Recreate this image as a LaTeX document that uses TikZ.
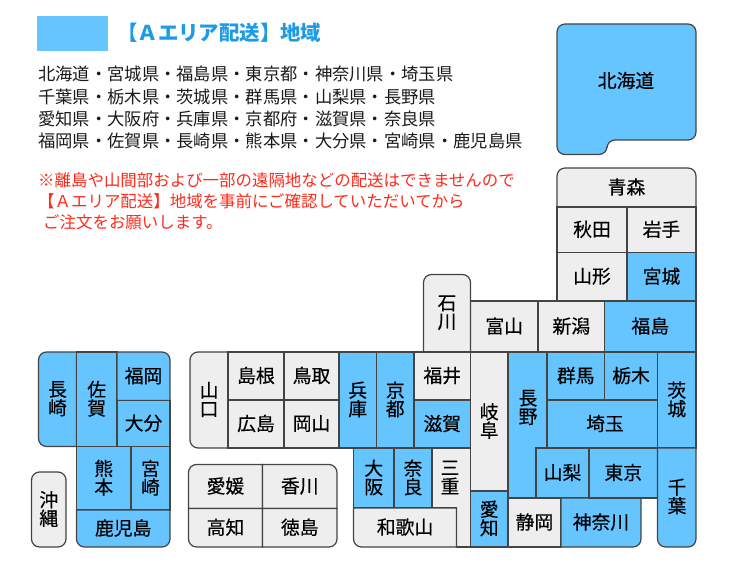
\documentclass[tikz,border=0pt]{standalone}
\usepackage{fontspec}
\setmainfont{Noto Sans CJK JP}
\newfontfamily\labfont[FakeBold=0.4]{Noto Sans CJK JP}
\definecolor{areablue}{HTML}{66C5FF}
\definecolor{areagray}{HTML}{EEEEEE}
\definecolor{edgeink}{HTML}{444444}
\definecolor{titleblue}{HTML}{1E9BE6}
\definecolor{noteRed}{HTML}{FF2A1A}
\definecolor{bodyink}{HTML}{1A1A1A}
\lineskiplimit=-20pt
\tikzset{
  blu/.style={fill=areablue},
  gry/.style={fill=areagray},
  prefedge/.style={draw=edgeink,line width=1.2pt},
  lab/.style={inner sep=0pt,align=center,text=black,yshift=0.5pt,font=\labfont\fontsize{18.8}{18.6}\selectfont},
  bodyline/.style={anchor=west,inner sep=0pt,text=bodyink,font=\fontsize{17.3}{18}\selectfont},
  noteline/.style={anchor=west,inner sep=0pt,text=noteRed,font=\fontsize{16.45}{18}\selectfont},
}
\def\parseR#1/#2/#3/#4\relax{\def\rtl{#1}\def\rtr{#2}\def\rbr{#3}\def\rbl{#4}}
\newcommand\prefshape[6][0/0/0/0]{%
  \parseR#1\relax
  \path[prefedge,#6] ({(#2+#4)/2},#3)
    [rounded corners=\rtl] -- (#2,#3)
    [rounded corners=\rbl] -- (#2,#5)
    [rounded corners=\rbr] -- (#4,#5)
    [rounded corners=\rtr] -- (#4,#3)
    [sharp corners] -- cycle;
}
\newcommand\pref[7][0/0/0/0]{%
  \prefshape[#1]{#2}{#3}{#4}{#5}{#6}
  \node[lab] (p#2x#3) at ({(#2+#4)/2},{(#3+#5)/2}) {#7};
}
\begin{document}
\begin{tikzpicture}[x=1pt,y=-1pt]
\useasboundingbox (0,0) rectangle (730,580);
\node[fill=areablue,minimum width=71pt,minimum height=35pt,inner sep=0pt] (legend) at (72.5,33.5) {};
\node[anchor=west,inner sep=0pt,text=titleblue,font=\bfseries\fontsize{20.4}{22}\selectfont] (title) at (117,33) {【Ａエリア配送】地域};
\node[bodyline] (b1) at (38,74) {北海道・宮城県・福島県・東京都・神奈川県・埼玉県};
\node[bodyline] (b2) at (38,96.5) {千葉県・栃木県・茨城県・群馬県・山梨県・長野県};
\node[bodyline] (b3) at (38,119) {愛知県・大阪府・兵庫県・京都府・滋賀県・奈良県};
\node[bodyline] (b4) at (38,141) {福岡県・佐賀県・長崎県・熊本県・大分県・宮崎県・鹿児島県};
\node[noteline] (n1) at (38,180) {※離島や山間部および一部の遠隔地などの配送はできませんので};
\node[noteline] (n2) at (38,201) {【Ａエリア配送】地域を事前にご確認していただいてから};
\node[noteline] (n3) at (43,222) {ご注文をお願いします。};
% Hokkaido
\path[prefedge,blu] (650,24) [rounded corners=8] -- (557,24) -- (557,154.5) -- (607,154.5)
  -- (607,140) -- (696,140) -- (696,24) [sharp corners] -- cycle;
\node[lab] (hokkaido) at (626,81) {北海道};
% Tohoku
\pref[8/8/0/0]{557}{168}{696}{207}{gry}{青森}
\pref{557}{207}{627}{252.5}{gry}{秋田}
\pref{627}{207}{696}{252.5}{gry}{岩手}
\pref{557}{252.5}{627}{301}{gry}{山形}
\pref{627}{252.5}{696}{301}{blu}{宮城}
\pref{604.5}{301}{696}{352}{blu}{福島}
\pref{538}{301}{604.5}{352}{gry}{新潟}
\pref{470.5}{301}{538}{352}{gry}{富山}
\pref[8/8/0/0]{423.5}{274.5}{470.5}{352}{gry}{石\\川}
% Kyushu
\pref[8/0/0/8]{38.5}{352}{76.5}{446.5}{blu}{長\\崎}
\pref{76.5}{352}{117}{446.5}{blu}{佐\\賀}
\pref[0/8/0/0]{117}{352}{170}{400.5}{blu}{福岡}
\pref{117}{400.5}{170}{446.5}{blu}{大分}
\pref{76.5}{446.5}{131}{510}{blu}{熊\\本}
\pref{131}{446.5}{170}{510}{blu}{宮\\崎}
\pref[0/0/8/8]{76.5}{510}{170}{547}{blu}{鹿児島}
\pref[8/8/8/8]{31.5}{472}{66}{547}{gry}{沖\\縄}
% Chugoku
\pref[8/0/0/8]{190}{352}{228}{448}{gry}{山\\口}
\pref{228}{352}{284}{400}{gry}{島根}
\pref{284}{352}{339}{400}{gry}{鳥取}
\pref{228}{400}{284}{448}{gry}{広島}
\pref{284}{400}{339}{448}{gry}{岡山}
% Shikoku
\pref[8/0/0/0]{188.5}{464.5}{262.5}{508.5}{gry}{愛媛}
\pref[0/8/0/0]{262.5}{464.5}{337}{508.5}{gry}{香川}
\pref[0/0/0/8]{188.5}{508.5}{262.5}{547}{gry}{高知}
\pref[0/0/8/0]{262.5}{508.5}{337}{547}{gry}{徳島}
% Kinki
\pref{339}{352}{376.5}{448}{blu}{兵\\庫}
\pref{376.5}{352}{414}{448}{blu}{京\\都}
\pref{414}{352}{470.5}{400}{gry}{福井}
\pref{414}{400}{470.5}{448}{blu}{滋賀}
\pref{353.5}{448}{394}{508}{blu}{大\\阪}
\pref{394}{448}{432}{508}{blu}{奈\\良}
\path[prefedge,gry] (432,448) -- (470.5,448) -- (470.5,547) -- (456.5,547) -- (456.5,508) -- (432,508) -- cycle;
\node[lab] (mie) at (450,478) {三\\重};
\pref[0/0/0/8]{353.5}{508}{456.5}{547}{gry}{和歌山}
% Chubu
\pref{470.5}{352}{508}{491}{gry}{岐\\阜}
\pref{470.5}{491}{508}{547}{blu}{愛\\知}
\path[prefedge,blu] (508,352) -- (547,352) -- (547,448) -- (536,448) -- (536,498) -- (508,498) -- cycle;
\node[lab] (nagano) at (528,408) {長\\野};
\pref{536}{448}{589}{498}{blu}{山梨}
\pref{508}{498}{561}{547}{gry}{静岡}
\pref[0/0/8/0]{561}{498}{641}{547}{blu}{神奈川}
% Kanto
\pref{547}{352}{604.5}{400}{blu}{群馬}
\pref{604.5}{352}{657.5}{400}{blu}{栃木}
\prefshape{547}{400}{657.5}{448}{blu}
\node[lab] (saitama) at (605,424) {埼玉};
\pref{589}{448}{657.5}{498}{blu}{東京}
\pref{657.5}{352}{696}{448}{blu}{茨\\城}
\path[prefedge,blu] (677,448) [rounded corners=0] -- (657.5,448) [rounded corners=8] -- (657.5,547) -- (696,547) [rounded corners=0] -- (696,448) [sharp corners] -- cycle;
\node[lab] (chiba) at (677,497) {千\\葉};
\end{tikzpicture}
\end{document}
